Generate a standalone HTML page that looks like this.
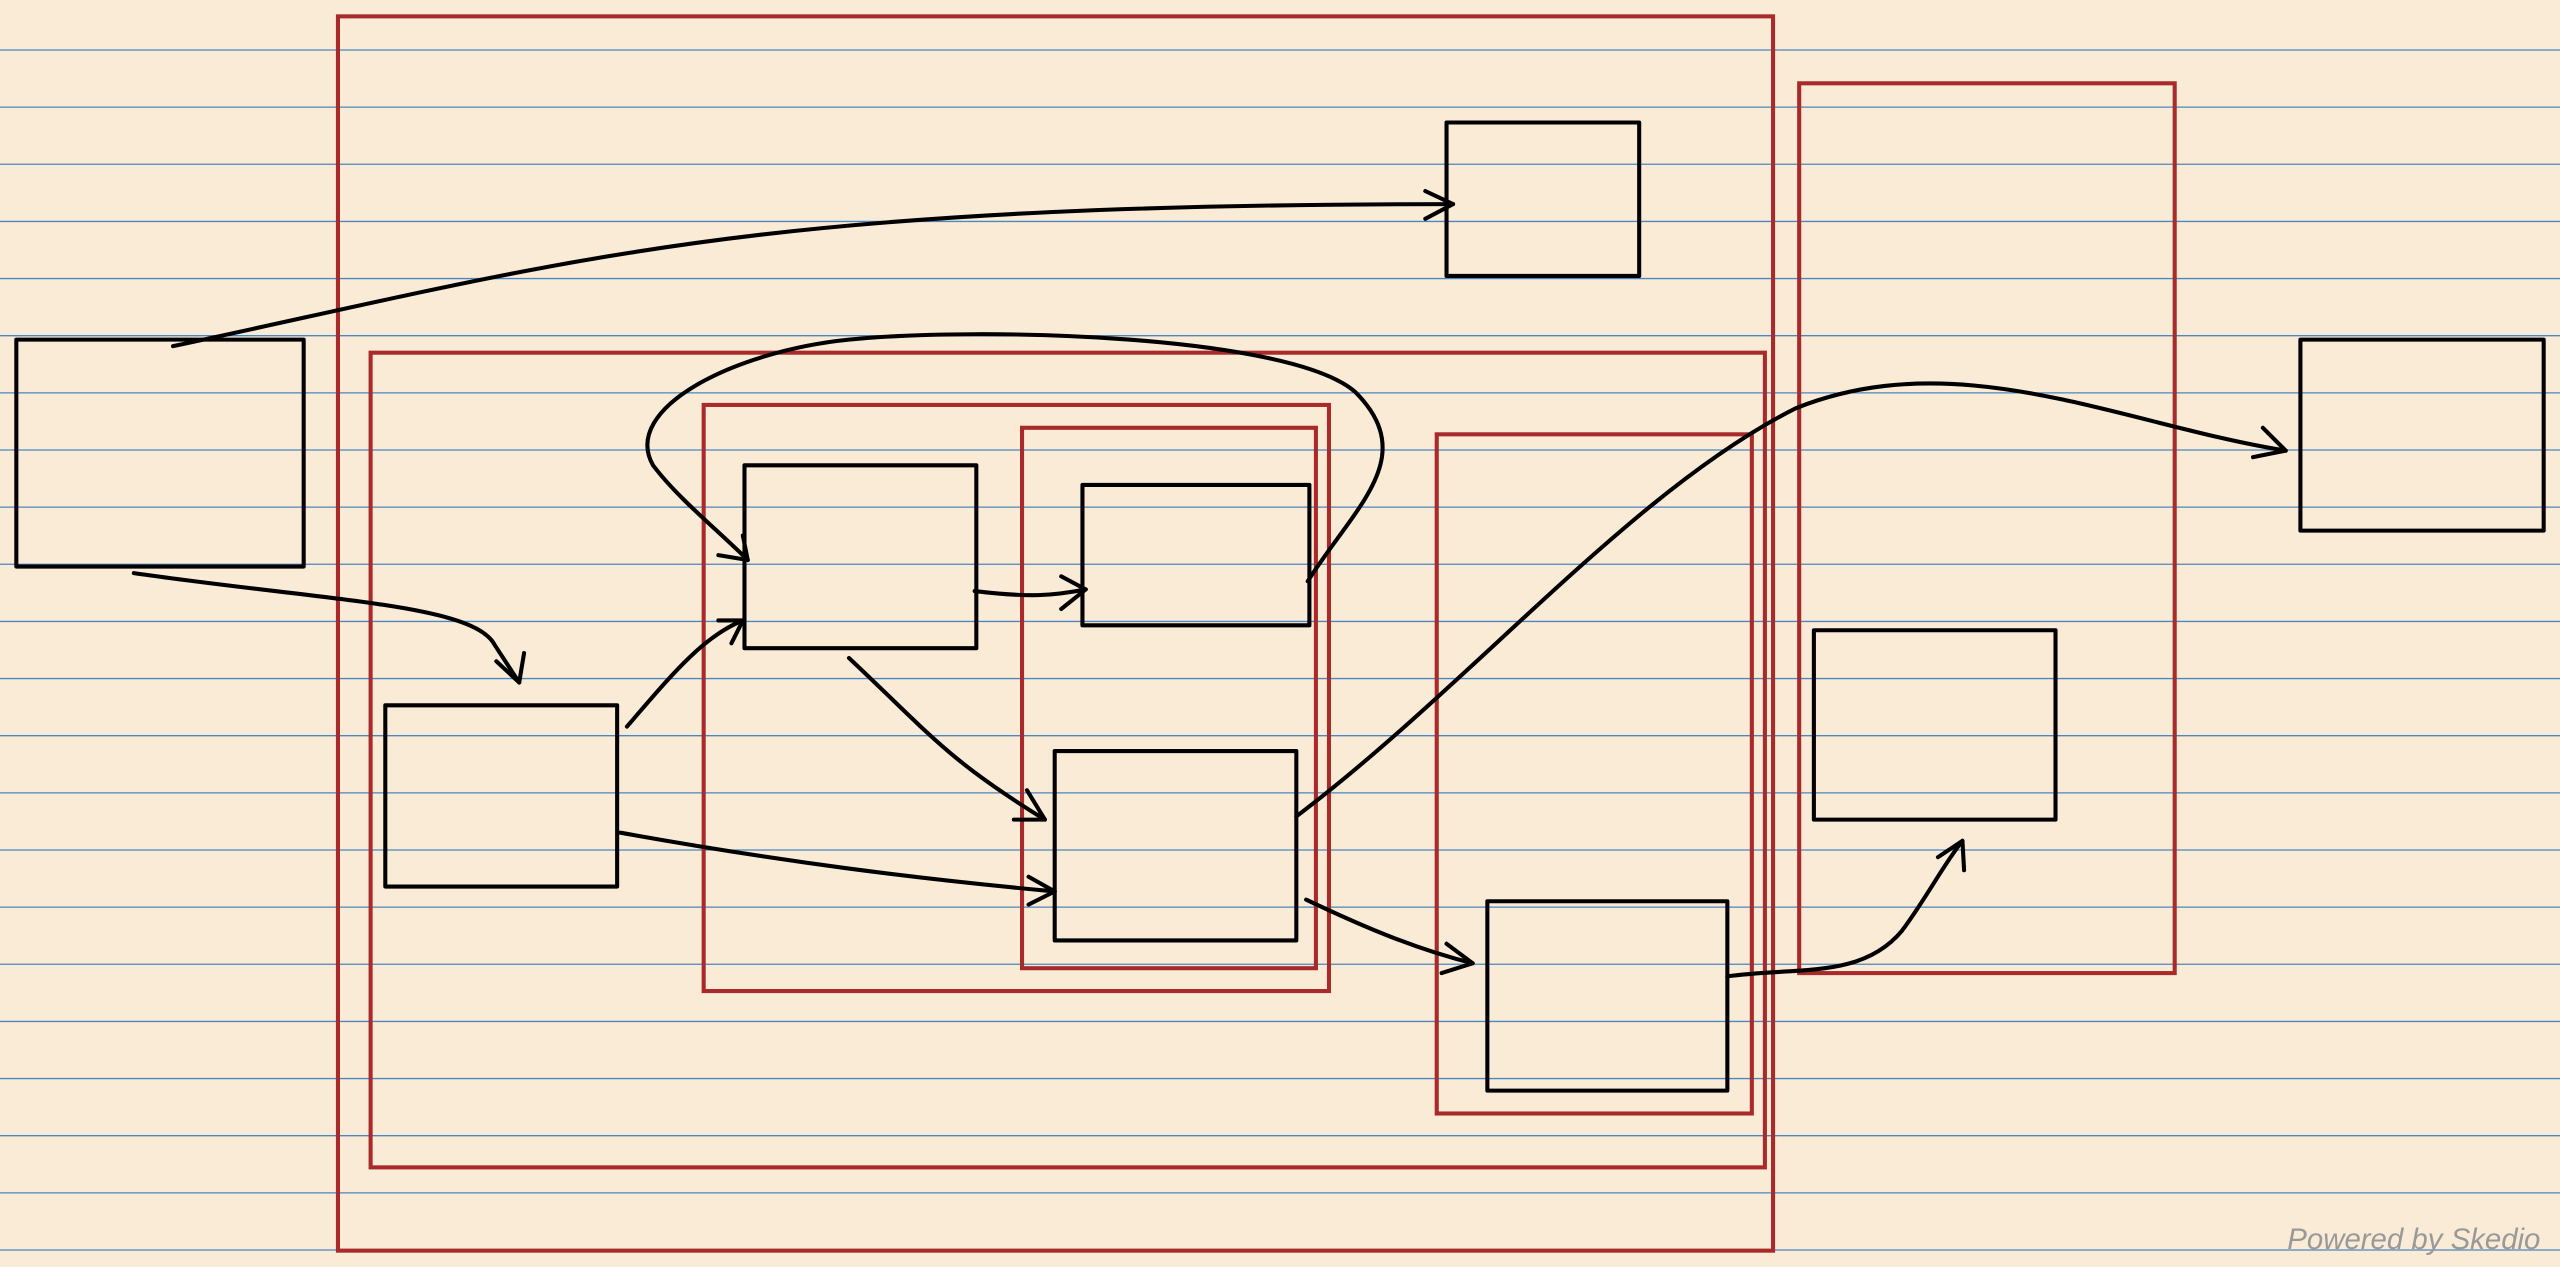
<!DOCTYPE html>
<html><head><meta charset="utf-8"><style>
html,body{margin:0;padding:0;background:#faebd7;overflow:hidden}
svg{display:block}
</style></head><body>
<svg width="2560" height="1267" viewBox="0 0 1568 776" xmlns="http://www.w3.org/2000/svg">
<rect width="1568" height="776" fill="#faebd7"/>
<g stroke="#4a86c0" stroke-width="0.8">
<line x1="0" x2="1568" y1="30.6" y2="30.6"/><line x1="0" x2="1568" y1="65.6" y2="65.6"/><line x1="0" x2="1568" y1="100.6" y2="100.6"/><line x1="0" x2="1568" y1="135.6" y2="135.6"/><line x1="0" x2="1568" y1="170.6" y2="170.6"/><line x1="0" x2="1568" y1="205.6" y2="205.6"/><line x1="0" x2="1568" y1="240.6" y2="240.6"/><line x1="0" x2="1568" y1="275.6" y2="275.6"/><line x1="0" x2="1568" y1="310.6" y2="310.6"/><line x1="0" x2="1568" y1="345.6" y2="345.6"/><line x1="0" x2="1568" y1="380.6" y2="380.6"/><line x1="0" x2="1568" y1="415.6" y2="415.6"/><line x1="0" x2="1568" y1="450.6" y2="450.6"/><line x1="0" x2="1568" y1="485.6" y2="485.6"/><line x1="0" x2="1568" y1="520.6" y2="520.6"/><line x1="0" x2="1568" y1="555.6" y2="555.6"/><line x1="0" x2="1568" y1="590.6" y2="590.6"/><line x1="0" x2="1568" y1="625.6" y2="625.6"/><line x1="0" x2="1568" y1="660.6" y2="660.6"/><line x1="0" x2="1568" y1="695.6" y2="695.6"/><line x1="0" x2="1568" y1="730.6" y2="730.6"/><line x1="0" x2="1568" y1="765.6" y2="765.6"/>
</g>
<g fill="none" stroke="#a82a2a" stroke-width="2.5">
<rect x="207" y="10" width="879" height="756"/>
<rect x="227" y="216" width="854" height="499"/>
<rect x="431" y="248" width="383" height="359"/>
<rect x="626" y="262" width="180" height="331"/>
<rect x="880" y="266" width="193" height="416"/>
<rect x="1102" y="51" width="230" height="545"/>
</g>
<g fill="none" stroke="#000" stroke-width="2.5" stroke-linecap="round" stroke-linejoin="round">
<rect x="10" y="208" width="176" height="139"/>
<rect x="886" y="75" width="118" height="94"/>
<rect x="1409" y="208" width="149" height="117"/>
<rect x="236" y="432" width="142" height="111"/>
<rect x="456" y="285" width="142" height="112"/>
<rect x="663" y="297" width="139" height="86"/>
<rect x="646" y="460" width="148" height="116"/>
<rect x="1111" y="386" width="148" height="116"/>
<rect x="911" y="552" width="147" height="116"/>
<path d="M106 212 C350 160 450 125 890 125"/><path d="M873 117 L890 125 L873 134"/>
<path d="M82 351 C200 368 290 370 303 395 L318 418"/><path d="M304 405 L318 418 L321 400"/>
<path d="M384 445 C410 415 430 390 455 380"/><path d="M440 380 L455 380 L448 394"/>
<path d="M380 510 C480 528 560 538 646 546"/><path d="M630 537 L646 546 L630 554"/>
<path d="M520 403 C570 450 580 465 640 502"/><path d="M629 484 L640 502 L621 502"/>
<path d="M597 362 C630 366 645 365 665 361"/><path d="M650 353 L665 361 L650 373"/>
<path d="M801 356 C830 310 870 280 830 240 C790 205 600 200 520 208 C450 215 380 250 400 285 C415 305 440 325 458 343"/><path d="M440 340 L458 343 L455 328"/>
<path d="M794 500 C900 420 1000 300 1100 250 C1200 210 1300 260 1400 276"/><path d="M1386 262 L1400 276 L1380 280"/>
<path d="M800 551 C840 570 870 582 902 590"/><path d="M886 578 L902 590 L883 596"/>
<path d="M1058 598 C1100 592 1140 600 1165 570 C1180 550 1190 530 1202 515"/><path d="M1187 525 L1202 515 L1203 533"/>
</g>
<text x="1556" y="765" text-anchor="end" font-family="Liberation Sans, sans-serif" font-style="italic" font-size="18" fill="#999">Powered by Skedio</text>
</svg>
</body></html>
